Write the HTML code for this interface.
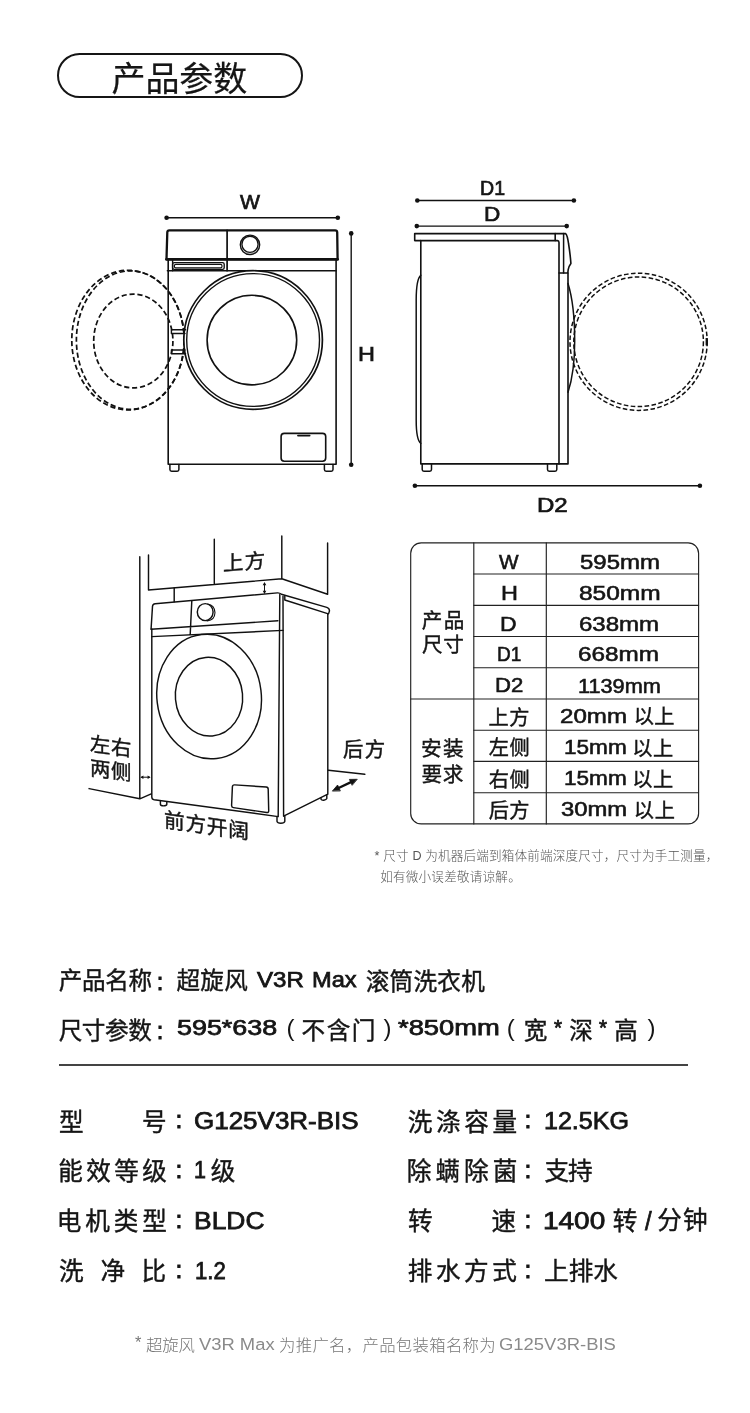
<!DOCTYPE html>
<html lang="zh-CN">
<head>
<meta charset="utf-8">
<title>产品参数</title>
<style>
*{margin:0;padding:0;box-sizing:border-box}
html,body{width:750px;height:1413px;background:#fff;overflow:hidden}
body{font-family:"Liberation Sans","Noto Sans CJK SC",sans-serif;color:#151515}
#page{position:relative;width:750px;height:1413px;background:#fff;overflow:hidden}
.t{position:absolute;white-space:nowrap;line-height:1;transform-origin:0 0;font-weight:400;color:#151515}
.L{-webkit-text-stroke:0.75px #151515}
.D{-webkit-text-stroke:0.7px #151515}
.LT{-webkit-text-stroke:0.55px #151515}
.K{-webkit-text-stroke:0.9px #151515}
.C{-webkit-text-stroke:0.42px #151515}
.Ct{-webkit-text-stroke:0.22px #151515}
.N{font-weight:300;color:#555}
.F{font-weight:300;color:#777}
.FL{font-weight:400;color:#8a8a8a}
#pill{position:absolute;left:57px;top:52.6px;width:246px;height:45.4px;border:2.6px solid #151515;border-radius:23px}
#txt{position:absolute;left:0;top:0;width:750px;height:1413px;will-change:transform}
#draw{position:absolute;left:0;top:0;width:750px;height:1413px}
#hr{position:absolute;left:59px;top:1064.4px;width:628.5px;height:1.3px;background:#444}
</style>
</head>
<body>
<div id="page">
<svg id="draw" width="750" height="1413" viewBox="0 0 750 1413" fill="none" stroke="#111" stroke-width="1.4" stroke-linecap="round" stroke-linejoin="round">
<g id="front">
<!-- W dimension -->
<line x1="166.6" y1="217.8" x2="337.8" y2="217.8" stroke-width="1.38"/>
<circle cx="166.6" cy="217.8" r="2.3" fill="#111" stroke="none"/>
<circle cx="337.8" cy="217.8" r="2.3" fill="#111" stroke="none"/>
<!-- H dimension -->
<line x1="351.2" y1="233.4" x2="351.2" y2="464.8" stroke-width="1.38"/>
<circle cx="351.2" cy="233.4" r="2.3" fill="#111" stroke="none"/>
<circle cx="351.2" cy="464.8" r="2.3" fill="#111" stroke="none"/>
<!-- dashed open door -->
<g stroke-dasharray="5.2 2.8" stroke-width="1.72" stroke-linecap="butt">
<ellipse cx="128" cy="340.1" rx="56.2" ry="69.8"/>
<ellipse cx="130.3" cy="340.1" rx="53.9" ry="69.2"/>
<ellipse cx="133.3" cy="341" rx="39.6" ry="46.9"/>
</g>
<!-- body -->
<path d="M168.2 260 V464.2 H336.1 V260" stroke-width="1.61"/>
<path d="M167.4 270.7 H336.1" stroke-width="1.49"/>
<!-- top control panel -->
<path d="M166.5 259.2 L167.3 232.3 Q167.4 230.4 169.3 230.4 H335.2 Q337.1 230.4 337.2 232.3 L337.6 259.2 Z" stroke-width="2.30" fill="#fff"/>
<line x1="166.5" y1="259.4" x2="337.6" y2="259.4" stroke-width="2.76"/>
<line x1="227.1" y1="230.4" x2="227.1" y2="270.7" stroke-width="1.72"/>
<circle cx="250" cy="244.8" r="9.7" stroke-width="1.38"/>
<circle cx="250" cy="244.3" r="8.1" stroke-width="1.38"/>
<!-- drawer handle -->
<line x1="172.6" y1="260" x2="172.6" y2="270.7" stroke-width="1.38"/>
<rect x="172.6" y="262.6" width="51.6" height="6.8" rx="1.6" stroke-width="1.38"/>
<rect x="174.4" y="264.4" width="47.6" height="3.4" rx="1.4" stroke-width="1.15"/>
<!-- door -->
<circle cx="253.1" cy="340" r="69.3" stroke-width="1.72" fill="#fff"/>
<circle cx="253.1" cy="340" r="66.4" stroke-width="1.38"/>
<circle cx="251.9" cy="340.1" r="44.8" stroke-width="1.61"/>
<!-- hinge -->
<path d="M171.4 329.7 H185.6 M171.4 333.5 H185 M171.4 350 H185 M171.4 353.7 H185.6 M171.4 329.7 V333.5 M171.4 350 V353.7" stroke-width="1.38"/>
<!-- filter door -->
<rect x="281.1" y="433.4" width="44.6" height="27.9" rx="3.2" stroke-width="1.61"/>
<path d="M298 435.6 H309.6" stroke-width="1.84"/>
<!-- feet -->
<path d="M169.9 464.4 V469.6 Q169.9 471.3 171.6 471.3 H177.2 Q178.9 471.3 178.9 469.6 V464.4" stroke-width="1.49"/>
<path d="M324.4 464.4 V469.6 Q324.4 471.3 326.1 471.3 H331.3 Q333 471.3 333 469.6 V464.4" stroke-width="1.49"/>
</g>

<g id="side">
<line x1="417.3" y1="200.5" x2="573.9" y2="200.5" stroke-width="1.38"/>
<circle cx="417.3" cy="200.5" r="2.3" fill="#111" stroke="none"/>
<circle cx="573.9" cy="200.5" r="2.3" fill="#111" stroke="none"/>
<line x1="416.8" y1="226.1" x2="566.7" y2="226.1" stroke-width="1.38"/>
<circle cx="416.8" cy="226.1" r="2.3" fill="#111" stroke="none"/>
<circle cx="566.7" cy="226.1" r="2.3" fill="#111" stroke="none"/>
<line x1="414.9" y1="485.7" x2="699.9" y2="485.7" stroke-width="1.38"/>
<circle cx="414.9" cy="485.7" r="2.3" fill="#111" stroke="none"/>
<circle cx="699.9" cy="485.7" r="2.3" fill="#111" stroke="none"/>
<!-- dashed door -->
<g stroke-dasharray="4.6 2.4" stroke-width="1.49" stroke-linecap="butt">
<circle cx="638.6" cy="341.8" r="68.6"/>
<circle cx="638.6" cy="341.8" r="64.8"/>
</g>
<rect x="705.6" y="338" width="2.2" height="7.4" fill="#111" stroke="none"/>
<!-- lid -->
<path d="M414.7 233.6 H555.2 V240.6 H414.7 Z" stroke-width="1.61"/>
<!-- body -->
<path d="M420.8 240.6 V463.9 H568 V273" stroke-width="1.61"/>
<path d="M555.2 240.6 H557.4 Q559 240.8 559 242.6 V463.9" stroke-width="1.61"/>
<!-- front panel -->
<path d="M555.2 233.6 H565.6 Q567.4 235 568.6 244 Q570.2 254 570.9 263.4 Q568.6 266.4 568.2 269.6 L567.8 273 H559" stroke-width="1.61"/>
<line x1="563.6" y1="233.6" x2="563.6" y2="273" stroke-width="1.49"/>
<!-- back bulge -->
<path d="M420.8 275.3 Q416.2 279 416.2 300 V420 Q416.2 440 420.8 443.3" stroke-width="1.49"/>
<!-- door bulge -->
<path d="M568 283.5 Q574.7 305 574.7 341 Q574.7 372 568 392.3" stroke-width="1.49"/>
<!-- feet -->
<path d="M422.2 464.1 V469.6 Q422.2 471.3 423.9 471.3 H429.8 Q431.5 471.3 431.5 469.6 V464.1" stroke-width="1.49"/>
<path d="M547.5 464.1 V469.6 Q547.5 471.3 549.2 471.3 H555.1 Q556.8 471.3 556.8 469.6 V464.1" stroke-width="1.49"/>
</g>

<g id="install" stroke-width="1.45">
<!-- wall -->
<path d="M139.8 556.7 V798.8 M89.1 788.6 L139.8 798.8 L151.2 793.9"/>
<!-- cabinet -->
<path d="M148.5 555 V590 L281.8 578.8 L327.6 594.2 M214.3 539.3 V584.2 M281.8 536 V578.8 M327.6 543 V594.2"/>
<path d="M174.2 588 V601.8"/>
<!-- washer top -->
<path d="M151.1 628.8 L152.5 606.4 Q152.7 603.9 155.2 603.7 L277.4 592.9 Q279.6 592.7 281.4 594.3 L326.8 607.4 Q329.8 608.6 329.4 611.2 Q329 613.6 327.8 614.2"/>
<path d="M284.8 595.6 V600 L327.6 613.6"/>
<path d="M151 629.2 L277.9 620.8 M151.8 636.6 L283 630.4 M191.8 600.8 L190.2 634.6"/>
<!-- knob -->
<ellipse cx="205.2" cy="612.1" rx="7.9" ry="8.5"/>
<path d="M207.6 604 Q214.6 605 215 612.6 Q214.8 620.4 207.2 620.9" stroke-width="1.1"/>
<!-- body -->
<path d="M151.8 629 V797 Q151.8 799.4 154.2 799.8 L278.2 816.6 M279.8 594.6 L278.2 816.6 M283 596.2 L283.6 816.2 L327.8 794.2 V614.2"/>
<!-- door -->
<ellipse cx="209.1" cy="696.5" rx="52.2" ry="62.4" transform="rotate(-7 209.1 696.5)"/>
<ellipse cx="209" cy="696.7" rx="33.6" ry="39.4" transform="rotate(-5 209 696.7)"/>
<!-- filter -->
<path d="M234.6 784.9 L266.2 787 Q268.2 787.2 268.2 789.2 L268.7 810.6 Q268.8 812.9 266.6 812.5 L233.4 807.6 Q231.5 807.3 231.6 805.2 L232.4 786.8 Q232.5 784.8 234.6 784.9 Z"/>
<!-- feet -->
<path d="M160.4 801 V804.4 Q160.6 805.8 163.4 805.9 Q166.6 805.8 166.8 804.4 V801.8"/>
<path d="M277 816.8 V821.4 Q277.4 823.2 280.8 823.2 Q284.4 823.2 284.8 821.4 V816"/>
<path d="M321 797.6 V799.2 Q321.6 800.4 323.8 800.2 Q326.4 799.8 326.8 798.6 V795"/>
<!-- floor -->
<path d="M328.4 770.3 L364.8 774.3"/>
<!-- back arrow -->
<path d="M337 788.7 L352.6 781.4" stroke-width="2.3" stroke-linecap="butt"/>
<path d="M332.6 790.8 L337.6 785 L340.2 790.6 Z M356.9 779.3 L349.4 779.4 L352 785 Z" fill="#111" stroke="#111" stroke-width="0.8"/>
<!-- top arrow -->
<path d="M264.5 583.4 V592.6" stroke-width="1"/>
<path d="M264.5 582 L262.7 585.2 H266.3 Z M264.5 594 L262.7 590.8 H266.3 Z" fill="#111" stroke="none"/>
<!-- side arrow -->
<path d="M141.6 777.2 H149.4" stroke-width="1"/>
<path d="M140.4 777.2 L143.4 775.5 V778.9 Z M150.6 777.2 L147.6 775.5 V778.9 Z" fill="#111" stroke="none"/>
</g>

<g id="table" stroke-width="1.15" stroke="#222">
<rect x="410.7" y="542.8" width="287.9" height="281.1" rx="10.5"/>
<path d="M473.8 542.8 V823.9 M546.3 542.8 V823.9"/>
<path d="M473.8 574.0 H698.6 M473.8 605.3 H698.6 M473.8 636.5 H698.6 M473.8 667.7 H698.6 M410.7 699.0 H698.6 M473.8 730.2 H698.6 M473.8 761.4 H698.6 M473.8 792.7 H698.6"/>
</g>

</svg>
<div id="pill"></div>
<div id="hr"></div>
<div id="txt">
<div class="t Ct" id="s0" style="left:111.60px;top:61.55px;font-size:34.00px;letter-spacing:-0.12px">产品参数</div>
<div class="t D" id="s1" style="left:240.20px;top:191.71px;font-size:20.20px;transform:scaleX(1.048)">W</div>
<div class="t D" id="s2" style="left:358.05px;top:343.91px;font-size:20.20px;transform:scaleX(1.161)">H</div>
<div class="t D" id="s3" style="left:479.60px;top:177.81px;font-size:20.20px;transform:scaleX(0.970)">D1</div>
<div class="t D" id="s4" style="left:484.35px;top:204.21px;font-size:20.20px;transform:scaleX(1.117)">D</div>
<div class="t D" id="s5" style="left:536.90px;top:495.16px;font-size:20.20px;transform:scaleX(1.190)">D2</div>
<div class="t LT" id="s6" style="left:499.20px;top:552.98px;font-size:19.30px;transform:scaleX(1.075)">W</div>
<div class="t LT" id="s7" style="left:500.55px;top:583.68px;font-size:19.30px;transform:scaleX(1.217)">H</div>
<div class="t LT" id="s8" style="left:500.47px;top:614.78px;font-size:19.30px;transform:scaleX(1.189)">D</div>
<div class="t LT" id="s9" style="left:497.15px;top:644.98px;font-size:19.30px;transform:scaleX(0.987)">D1</div>
<div class="t LT" id="s10" style="left:494.90px;top:676.36px;font-size:19.30px;transform:scaleX(1.149)">D2</div>
<div class="t C" id="s11" style="left:488.60px;top:707.55px;font-size:20.20px;letter-spacing:0.45px">上方</div>
<div class="t C" id="s12" style="left:488.85px;top:738.48px;font-size:20.20px;letter-spacing:0.45px">左侧</div>
<div class="t C" id="s13" style="left:488.85px;top:769.85px;font-size:20.20px;letter-spacing:0.45px">右侧</div>
<div class="t C" id="s14" style="left:488.85px;top:800.75px;font-size:20.20px;letter-spacing:0.22px">后方</div>
<div class="t LT" id="s15" style="left:579.80px;top:552.98px;font-size:19.30px;transform:scaleX(1.242)">595mm</div>
<div class="t LT" id="s16" style="left:578.75px;top:583.68px;font-size:19.30px;transform:scaleX(1.269)">850mm</div>
<div class="t LT" id="s17" style="left:579.10px;top:614.78px;font-size:19.30px;transform:scaleX(1.246)">638mm</div>
<div class="t LT" id="s18" style="left:578.35px;top:644.98px;font-size:19.30px;transform:scaleX(1.260)">668mm</div>
<div class="t LT" id="s19" style="left:577.80px;top:676.98px;font-size:19.30px;transform:scaleX(1.126)">1139mm</div>
<div class="t LT" id="s20" style="left:560.30px;top:706.98px;font-size:19.30px;transform:scaleX(1.250)">20mm</div>
<div class="t LT" id="s21" style="left:563.75px;top:737.61px;font-size:19.30px;transform:scaleX(1.170)">15mm</div>
<div class="t LT" id="s22" style="left:563.75px;top:769.01px;font-size:19.30px;transform:scaleX(1.170)">15mm</div>
<div class="t LT" id="s23" style="left:561.00px;top:800.38px;font-size:19.30px;transform:scaleX(1.234)">30mm</div>
<div class="t C" id="s24" style="left:633.70px;top:707.30px;font-size:20.20px;letter-spacing:0.49px">以上</div>
<div class="t C" id="s25" style="left:632.25px;top:738.60px;font-size:20.20px;letter-spacing:0.58px">以上</div>
<div class="t C" id="s26" style="left:632.25px;top:769.60px;font-size:20.20px;letter-spacing:0.58px">以上</div>
<div class="t C" id="s27" style="left:633.70px;top:800.50px;font-size:20.20px;letter-spacing:0.81px">以上</div>
<div class="t C" id="s28" style="left:421.65px;top:611.00px;font-size:20.60px;letter-spacing:1.49px">产品</div>
<div class="t C" id="s29" style="left:421.90px;top:635.10px;font-size:20.60px;letter-spacing:0.81px">尺寸</div>
<div class="t C" id="s30" style="left:420.90px;top:739.40px;font-size:20.60px;letter-spacing:1.49px">安装</div>
<div class="t C" id="s31" style="left:421.40px;top:764.80px;font-size:20.60px;letter-spacing:0.81px">要求</div>
<div class="t C" id="s32" style="left:343.00px;top:740.45px;font-size:20.40px;letter-spacing:1.35px">后方</div>
<div class="t N" id="s33" style="left:374.60px;top:849.55px;font-size:12.60px;letter-spacing:0.15px">* 尺寸 D 为机器后端到箱体前端深度尺寸，尺寸为手工测量，</div>
<div class="t N" id="s34" style="left:380.15px;top:870.80px;font-size:12.60px;letter-spacing:0.21px">如有微小误差敬请谅解。</div>
<div class="t C" id="s35" style="left:58.65px;top:969.65px;font-size:23.60px;letter-spacing:-0.30px">产品名称</div>
<div class="t K" id="s36" style="left:156.68px;top:970.80px;font-size:23.60px">:</div>
<div class="t C" id="s37" style="left:176.40px;top:969.65px;font-size:23.60px;letter-spacing:0.38px">超旋风</div>
<div class="t L" id="s38" style="left:256.70px;top:968.79px;font-size:22.40px;transform:scaleX(1.076)">V3R</div>
<div class="t L" id="s39" style="left:312.25px;top:968.54px;font-size:22.40px;transform:scaleX(1.056)">Max</div>
<div class="t C" id="s40" style="left:365.75px;top:970.80px;font-size:23.60px;letter-spacing:0.26px">滚筒洗衣机</div>
<div class="t C" id="s41" style="left:58.65px;top:1019.50px;font-size:23.60px;letter-spacing:-0.38px">尺寸参数</div>
<div class="t K" id="s42" style="left:156.68px;top:1019.60px;font-size:23.60px">:</div>
<div class="t L" id="s43" style="left:177.00px;top:1017.49px;font-size:22.40px;transform:scaleX(1.201)">595*638</div>
<div class="t P" id="s44" style="left:286.48px;top:1016.40px;font-size:24.00px">(</div>
<div class="t C" id="s45" style="left:301.55px;top:1019.95px;font-size:23.60px;letter-spacing:1.51px">不含门</div>
<div class="t P" id="s46" style="left:383.50px;top:1016.40px;font-size:24.00px">)</div>
<div class="t L" id="s47" style="left:397.90px;top:1017.49px;font-size:22.40px;transform:scaleX(1.222)">*850mm</div>
<div class="t P" id="s48" style="left:506.85px;top:1016.40px;font-size:24.00px">(</div>
<div class="t C" id="s49" style="left:523.75px;top:1019.95px;font-size:23.60px">宽</div>
<div class="t L" id="s50" style="left:553.65px;top:1016.89px;font-size:22.40px;transform:scaleX(0.920)">*</div>
<div class="t C" id="s51" style="left:569.33px;top:1019.95px;font-size:23.60px">深</div>
<div class="t L" id="s52" style="left:598.65px;top:1016.89px;font-size:22.40px;transform:scaleX(0.920)">*</div>
<div class="t C" id="s53" style="left:614.20px;top:1020.20px;font-size:23.60px">高</div>
<div class="t P" id="s54" style="left:647.38px;top:1016.40px;font-size:24.00px">)</div>
<div class="t C" id="s55" style="left:58.95px;top:1111.30px;font-size:24.60px">型</div>
<div class="t C" id="s56" style="left:142.08px;top:1110.55px;font-size:24.60px">号</div>
<div class="t K" id="s57" style="left:175.40px;top:1108.40px;font-size:24.60px">:</div>
<div class="t L" id="s58" style="left:193.60px;top:1110.45px;font-size:23.40px;transform:scaleX(1.111)">G125V3R-BIS</div>
<div class="t C" id="s59" style="left:58.30px;top:1160.45px;font-size:24.60px;letter-spacing:3.39px">能效等级</div>
<div class="t K" id="s60" style="left:175.40px;top:1158.30px;font-size:24.60px">:</div>
<div class="t L" id="s61" style="left:193.80px;top:1159.35px;font-size:23.40px;transform:scaleX(0.920)">1</div>
<div class="t C" id="s62" style="left:210.85px;top:1160.45px;font-size:24.60px">级</div>
<div class="t C" id="s63" style="left:56.70px;top:1209.65px;font-size:24.60px;letter-spacing:3.89px">电机类型</div>
<div class="t K" id="s64" style="left:175.40px;top:1207.50px;font-size:24.60px">:</div>
<div class="t L" id="s65" style="left:193.70px;top:1209.55px;font-size:23.40px;transform:scaleX(1.130)">BLDC</div>
<div class="t C" id="s66" style="left:58.90px;top:1260.45px;font-size:24.60px">洗</div>
<div class="t C" id="s67" style="left:100.60px;top:1260.45px;font-size:24.60px">净</div>
<div class="t C" id="s68" style="left:141.60px;top:1260.45px;font-size:24.60px">比</div>
<div class="t K" id="s69" style="left:175.40px;top:1258.30px;font-size:24.60px">:</div>
<div class="t L" id="s70" style="left:195.20px;top:1259.60px;font-size:23.40px;transform:scaleX(0.947)">1.2</div>
<div class="t C" id="s71" style="left:407.75px;top:1110.55px;font-size:24.60px;letter-spacing:3.63px">洗涤容量</div>
<div class="t K" id="s72" style="left:524.60px;top:1108.40px;font-size:24.60px">:</div>
<div class="t L" id="s73" style="left:543.95px;top:1110.45px;font-size:23.40px;transform:scaleX(1.071)">12.5KG</div>
<div class="t C" id="s74" style="left:406.75px;top:1160.45px;font-size:24.60px;letter-spacing:4.08px">除螨除菌</div>
<div class="t K" id="s75" style="left:524.60px;top:1158.30px;font-size:24.60px">:</div>
<div class="t C" id="s76" style="left:544.45px;top:1160.45px;font-size:24.60px;letter-spacing:-0.99px">支持</div>
<div class="t C" id="s77" style="left:408.00px;top:1209.65px;font-size:24.60px">转</div>
<div class="t C" id="s78" style="left:491.60px;top:1209.90px;font-size:24.60px">速</div>
<div class="t K" id="s79" style="left:524.60px;top:1207.50px;font-size:24.60px">:</div>
<div class="t L" id="s80" style="left:543.20px;top:1209.55px;font-size:23.40px;transform:scaleX(1.196)">1400</div>
<div class="t C" id="s81" style="left:612.85px;top:1209.65px;font-size:24.60px">转</div>
<div class="t L" id="s82" style="left:645.23px;top:1207.56px;font-size:26.00px;transform:scaleX(0.920)">/</div>
<div class="t C" id="s83" style="left:657.20px;top:1209.40px;font-size:24.60px;letter-spacing:1.30px">分钟</div>
<div class="t C" id="s84" style="left:407.75px;top:1260.45px;font-size:24.60px;letter-spacing:3.56px">排水方式</div>
<div class="t K" id="s85" style="left:524.60px;top:1258.30px;font-size:24.60px">:</div>
<div class="t C" id="s86" style="left:543.95px;top:1260.45px;font-size:24.60px;letter-spacing:0.11px">上排水</div>
<div class="t F" id="s87" style="left:134.90px;top:1334.30px;font-size:16.40px">*</div>
<div class="t F" id="s88" style="left:146.00px;top:1336.80px;font-size:16.40px;letter-spacing:-0.20px">超旋风</div>
<div class="t FL" id="s89" style="left:198.60px;top:1336.52px;font-size:16.76px;transform:scaleX(1.097)">V3R Max</div>
<div class="t F" id="s90" style="left:279.00px;top:1336.55px;font-size:16.40px;letter-spacing:0.30px">为推广名，产品包装箱名称为</div>
<div class="t FL" id="s91" style="left:499.40px;top:1336.52px;font-size:16.76px;transform:scaleX(1.101)">G125V3R-BIS</div>
<div class="t C" id="e1" style="left:222.8px;top:554.2px;font-size:20.6px;letter-spacing:1px;transform:skewY(-4.6deg);transform-origin:0 50%">上方</div>
<div class="t C" id="e2" style="left:89.6px;top:731.5px;font-size:20.4px;letter-spacing:.6px;line-height:24.4px;transform:skewY(7.5deg);transform-origin:0 50%">左右<br>两侧</div>
<div class="t C" id="e3" style="left:164px;top:809.6px;font-size:20.7px;letter-spacing:.7px;transform:skewY(8.3deg);transform-origin:0 50%">前方开阔</div>

</div>
</div>
</body>
</html>
